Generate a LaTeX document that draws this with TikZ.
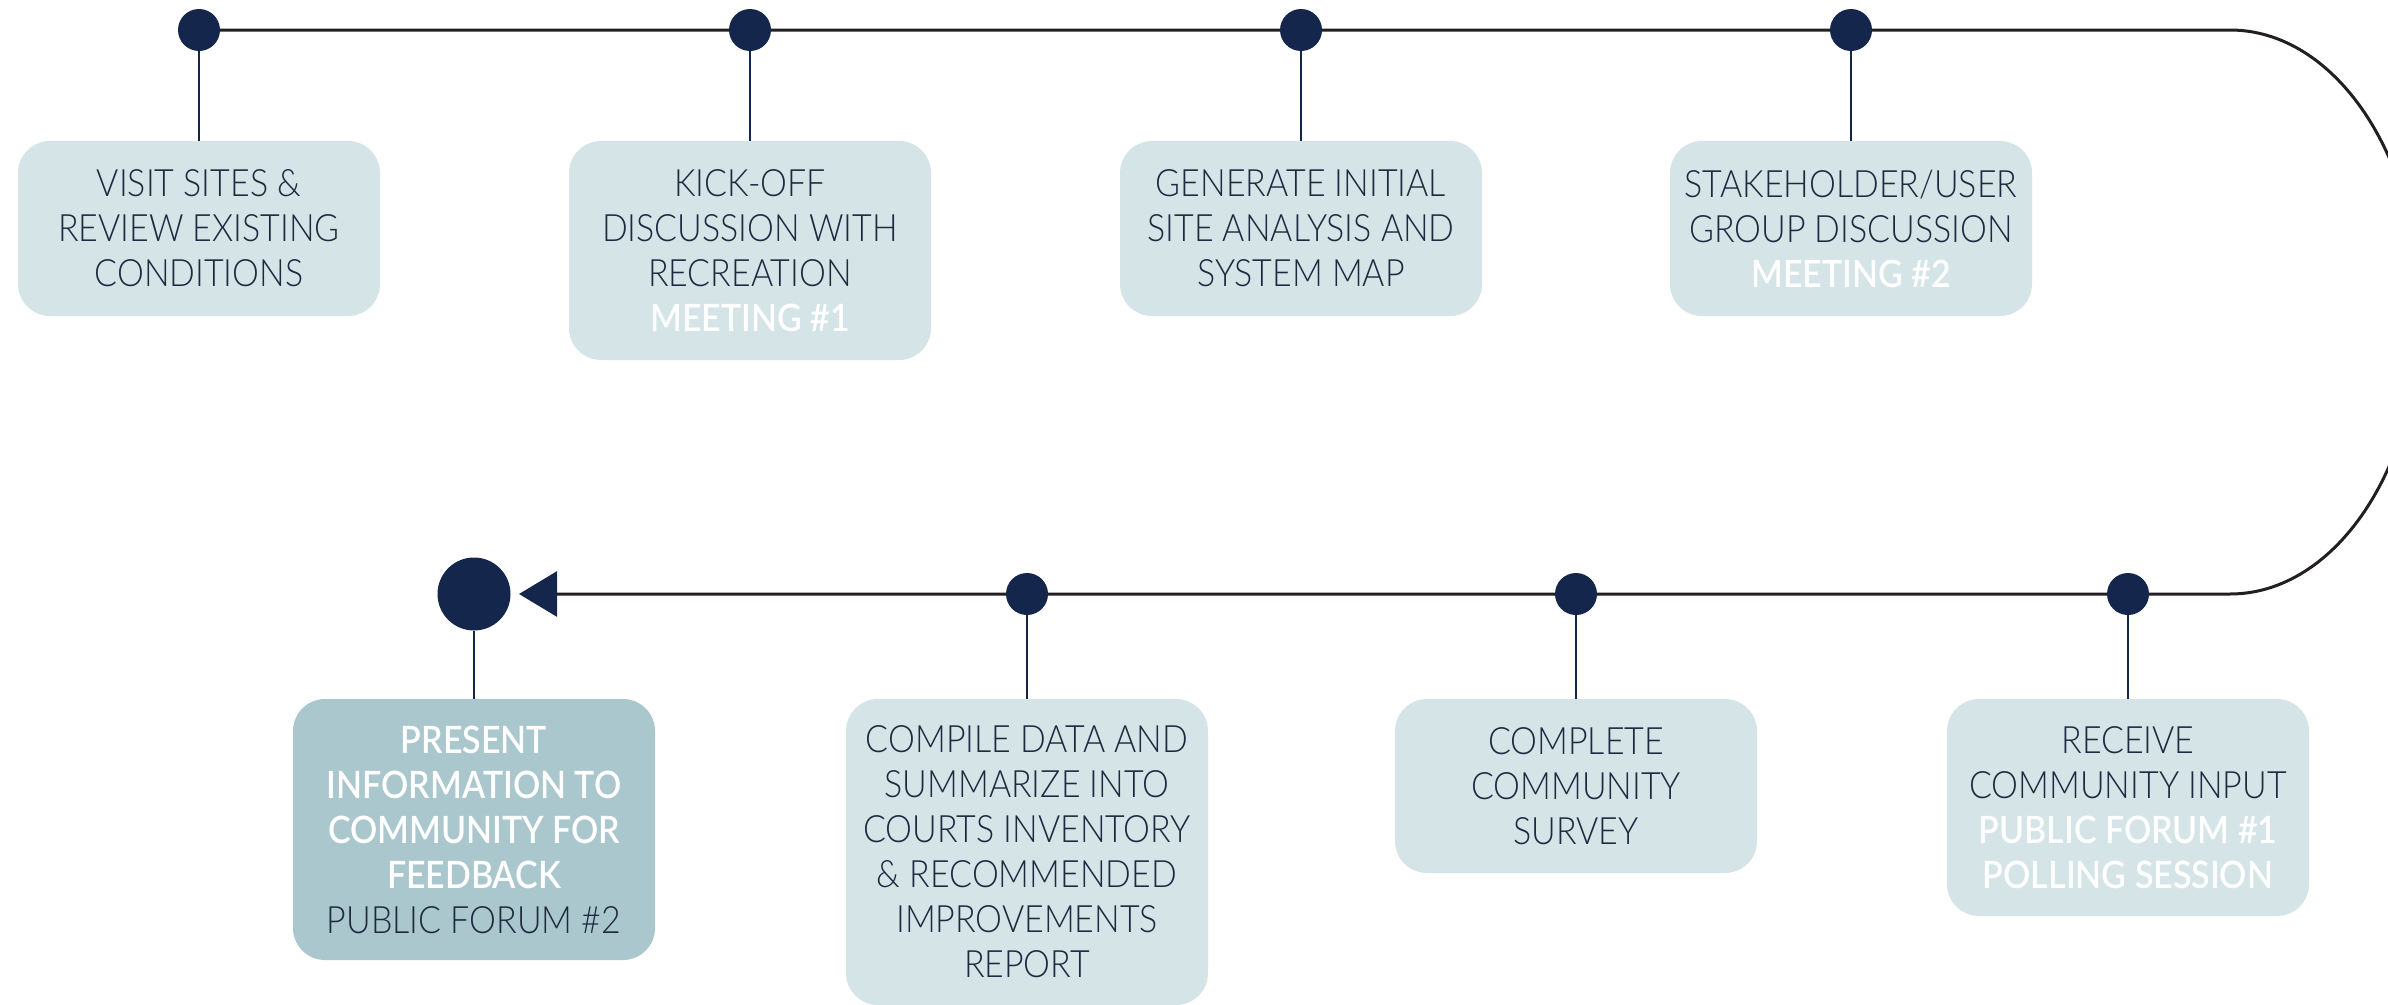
\documentclass[tikz,border=0pt]{standalone}
\usepackage{fontspec}
\IfFontExistsTF{Lato Light}{\newfontfamily\lightf{Lato Light}[FakeStretch=0.9]}{\newfontfamily\lightf{Lato}[FakeStretch=0.9]}
\IfFontExistsTF{Lato Semibold}{\newfontfamily\medf{Lato Semibold}[FakeStretch=0.9]}{\newfontfamily\medf{Lato}[FakeStretch=0.9]}
\usetikzlibrary{arrows.meta,backgrounds}
\definecolor{boxlight}{HTML}{D4E4E7}
\definecolor{boxdark}{HTML}{A9C7CC}
\definecolor{navy}{HTML}{14264B}
\definecolor{txt}{HTML}{1E2940}
\definecolor{trackc}{HTML}{231F20}
\newcommand{\wht}[1]{\textcolor{white}{\medf #1}}
\begin{document}
\begin{tikzpicture}[x=1pt,y=-1pt,
  dot/.style={circle,fill=navy,inner sep=0pt,minimum size=42pt},
  bigdot/.style={circle,fill=navy,inner sep=0pt,minimum size=73pt},
  stepbox/.style={rounded corners=32pt,fill=boxlight,inner sep=0pt,minimum width=362pt,
    align=center,text=txt,font=\lightf\fontsize{37.7}{45}\selectfont},
  darkbox/.style={stepbox,fill=boxdark},
  stem/.style={draw=navy,line width=2.5pt},
  track/.style={draw=trackc,line width=3pt}]
\useasboundingbox (0,0) rectangle (2388,1004);
% top row
\node[dot] (d1) at (199,30) {};
\node[dot] (d2) at (750,30) {};
\node[dot] (d3) at (1301,30) {};
\node[dot] (d4) at (1851,30) {};
% bottom row
\node[dot] (d5) at (2128,594) {};
\node[dot] (d6) at (1576,594) {};
\node[dot] (d7) at (1027,594) {};
\node[bigdot] (d8) at (474,594) {};
\coordinate (tr) at (2230,30);
\coordinate (br) at (2230,594);
\coordinate (tip) at (519,594);
% boxes
\node[stepbox,minimum height=175pt] (b1) at (199,228.5) {VISIT SITES \&\\REVIEW EXISTING\\CONDITIONS};
\node[stepbox,minimum height=219pt] (b2) at (750,250.5) {KICK-OFF\\DISCUSSION WITH\\RECREATION\\\wht{MEETING \#1}};
\node[stepbox,minimum height=175pt] (b3) at (1301,228.5) {GENERATE INITIAL\\SITE ANALYSIS AND\\SYSTEM MAP};
\node[stepbox,minimum height=175pt] (b4) at (1851,228.5) {STAKEHOLDER/USER\\GROUP DISCUSSION\\\wht{MEETING \#2}};
\node[stepbox,minimum height=217pt] (b5) at (2128,807.5) {RECEIVE\\COMMUNITY INPUT\\\wht{PUBLIC FORUM \#1}\\\wht{POLLING SESSION}};
\node[stepbox,minimum height=174pt] (b6) at (1576,786) {COMPLETE\\COMMUNITY\\SURVEY};
\node[stepbox,minimum height=306pt] (b7) at (1027,852) {COMPILE DATA AND\\SUMMARIZE INTO\\COURTS INVENTORY\\\& RECOMMENDED\\IMPROVEMENTS\\REPORT};
\node[darkbox,minimum height=261pt] (b8) at (474,829.5) {\wht{PRESENT}\\\wht{INFORMATION TO}\\\wht{COMMUNITY FOR}\\\wht{FEEDBACK}\\PUBLIC FORUM \#2};
% stems
\foreach \i in {1,...,8} {\draw[stem] (d\i.south) -- (b\i.north);}
% track
\begin{pgfonlayer}{background}
\draw[track,-{Triangle[length=38pt,width=45pt,color=navy]}] (d1.center) -- (d2.center) -- (d3.center) -- (d4.center) -- (tr)
  .. controls (2335,30) and (2420,156) .. (2420,312)
  .. controls (2420,468) and (2335,594) .. (br)
  -- (d5.center) -- (d6.center) -- (d7.center) -- (tip);
\end{pgfonlayer}
\end{tikzpicture}
\end{document}
